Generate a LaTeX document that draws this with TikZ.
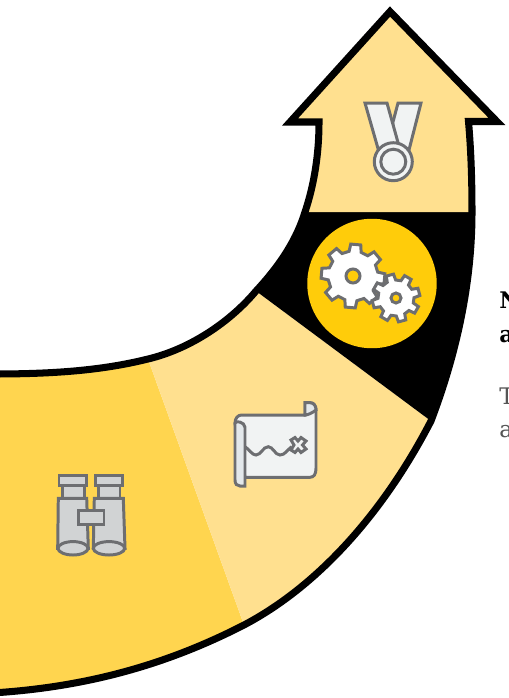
\documentclass[tikz,border=0pt]{standalone}
\usepackage{fontspec}
\setmainfont{DejaVu Serif}
\definecolor{darkyellow}{HTML}{FFD54F}
\definecolor{lightyellow}{HTML}{FFE08F}
\definecolor{discyellow}{HTML}{FFCC0A}
\definecolor{icongray}{HTML}{6D6E71}
\definecolor{iconfill}{HTML}{F1F3F3}
\definecolor{scrollfill}{HTML}{E3E8EB}
\definecolor{glassfill}{HTML}{D1D3D4}
\definecolor{bodytext}{HTML}{555555}
\tikzset{
    outline/.style={draw=black, line width=4pt, line join=miter},
    iconline/.style={draw=icongray, line width=1.7pt, line join=miter},
    headtext/.style={anchor=base west, inner sep=0pt, font=\bfseries\fontsize{13}{15}\selectfont, text=black},
    plaintext/.style={anchor=base west, inner sep=0pt, font=\fontsize{13}{15}\selectfont, text=bodytext}
}
\newcommand{\gearshape}[6]{%
    \draw[iconline, fill=white] ($(#1,#2)+({#5-14}:#4)$)
        \foreach \a in {0,45,...,315} {
            -- ($(#1,#2)+({#5+\a-14}:#4)$) -- ($(#1,#2)+({#5+\a-9}:#3)$)
            -- ($(#1,#2)+({#5+\a+9}:#3)$) -- ($(#1,#2)+({#5+\a+14}:#4)$)
        } -- cycle;
    \draw[iconline, fill=discyellow] (#1,#2) circle (#6);
}
\usetikzlibrary{calc}
\begin{document}
\begin{tikzpicture}[x=0.02cm, y=-0.02cm]
    \useasboundingbox (0,0) rectangle (509,698);
    \clip (0,0) rectangle (509,698);

    % band segments
    \fill[darkyellow] (-8,374) .. controls (50,374) and (100,371) .. (148,359)
        -- (244,625) .. controls (170,663) and (90,687) .. (-8,693) -- cycle;
    \fill[lightyellow] (148,359) .. controls (190,349) and (230,322) .. (256,291)
        -- (431,421) .. controls (385,510) and (320,585) .. (244,625) -- cycle;
    \fill[black] (256,291) .. controls (282,263) and (297,238) .. (305,212)
        -- (472,212) .. controls (472,280) and (458,350) .. (431,421) -- cycle;
    \fill[lightyellow] (305,212) .. controls (314,185) and (319,155) .. (319,122)
        -- (290,122) -- (390,11.5) -- (497,121.5) -- (468.5,121.5)
        .. controls (471,150) and (472,180) .. (472,212) -- cycle;

    % outline of the arrow
    \draw[outline] (-8,374) .. controls (50,374) and (100,371) .. (148,359)
        .. controls (190,349) and (230,322) .. (256,291)
        .. controls (282,263) and (297,238) .. (305,212)
        .. controls (314,185) and (319,155) .. (319,122)
        -- (290,122) -- (390,11.5) -- (497,121.5) -- (468.5,121.5)
        .. controls (471,150) and (472,180) .. (472,212)
        .. controls (472,280) and (458,350) .. (431,421)
        .. controls (385,510) and (320,585) .. (244,625)
        .. controls (170,663) and (90,687) .. (-8,693);

    % medal
    \draw[iconline, fill=iconfill] (398,103) -- (421,103) -- (409,150) -- (392,150) -- (393,122) -- cycle;
    \draw[iconline, fill=iconfill] (365,103) -- (387,103) -- (399,146) -- (379,152) -- cycle;
    \draw[iconline, fill=iconfill] (393.3,161.7) circle (19);
    \draw[iconline, fill=iconfill] (393.3,161.7) circle (12.5);

    % gears
    \node[circle, fill=discyellow, minimum size=2.59cm, inner sep=0pt] (geardisc) at (372,283.5) {};
    \gearshape{353}{276}{32}{25}{5}{7}
    \gearshape{396}{298}{24}{18}{30}{5}

    % map
    \draw[iconline, fill=iconfill] (235,423.3) .. controls (235,418) and (238,415) .. (241.7,415)
        -- (305,415) -- (305,402.7) -- (310,402.7) .. controls (314,402.7) and (316,406) .. (316,410)
        -- (316,468.3) .. controls (316,474) and (314,477.3) .. (310,477.3) -- (245,477.3) -- cycle;
    \draw[iconline, fill=scrollfill] (305,415) -- (305,402.7) -- (310,402.7)
        .. controls (314,402.7) and (316,406) .. (316,410) .. controls (312,413) and (308,415) .. (305,415) -- cycle;
    \draw[iconline, fill=scrollfill] (235,423.3) -- (235,480) .. controls (235,484) and (237,486) .. (240,486)
        -- (245,486) -- (245,427.3) .. controls (245,422) and (235,420) .. (235,423.3) -- cycle;
    \draw[iconline] (245,446.7) .. controls (250,450) and (252,455) .. (256,455)
        .. controls (261,455) and (263,446.7) .. (268.3,446.7)
        .. controls (273,446.7) and (275,455) .. (280,455)
        .. controls (285,455) and (287,450) .. (291.7,446.7);
    \draw[iconline, fill=iconfill] (291,440) -- (295,437.5) -- (298,441) -- (301,437.5) -- (306,441)
        -- (302.5,445) -- (306,449) -- (301,452.5) -- (298,449) -- (295,452.5) -- (291,450)
        -- (294,445) -- cycle;

    % binoculars
    \draw[iconline, fill=glassfill] (59,475.7) rectangle (86.7,485.7);
    \draw[iconline, fill=glassfill] (62.3,485.7) rectangle (84.3,498.3);
    \draw[iconline, fill=glassfill] (58.3,498.3) -- (86.7,498.3) -- (88.3,548.3) -- (57.7,548.3) -- cycle;
    \draw[iconline, fill=glassfill] (73,548.3) ellipse (15 and 6.7);
    \draw[iconline, fill=glassfill] (95.7,475.7) rectangle (122.3,485.7);
    \draw[iconline, fill=glassfill] (98.3,485.7) rectangle (120,498.3);
    \draw[iconline, fill=glassfill] (94.3,498.3) -- (123.3,498.3) -- (125,548.3) -- (93.3,548.3) -- cycle;
    \draw[iconline, fill=glassfill] (109,548.3) ellipse (15.7 and 6.7);
    \draw[iconline, fill=glassfill] (78.3,510.7) rectangle (104,524.3);

    % text at the edge
    \node[headtext] (headone) at (499,308) {N};
    \node[headtext] (headtwo) at (499,342) {a};
    \node[plaintext] (textone) at (499,404) {T};
    \node[plaintext] (texttwo) at (499,437) {a};
\end{tikzpicture}
\end{document}
